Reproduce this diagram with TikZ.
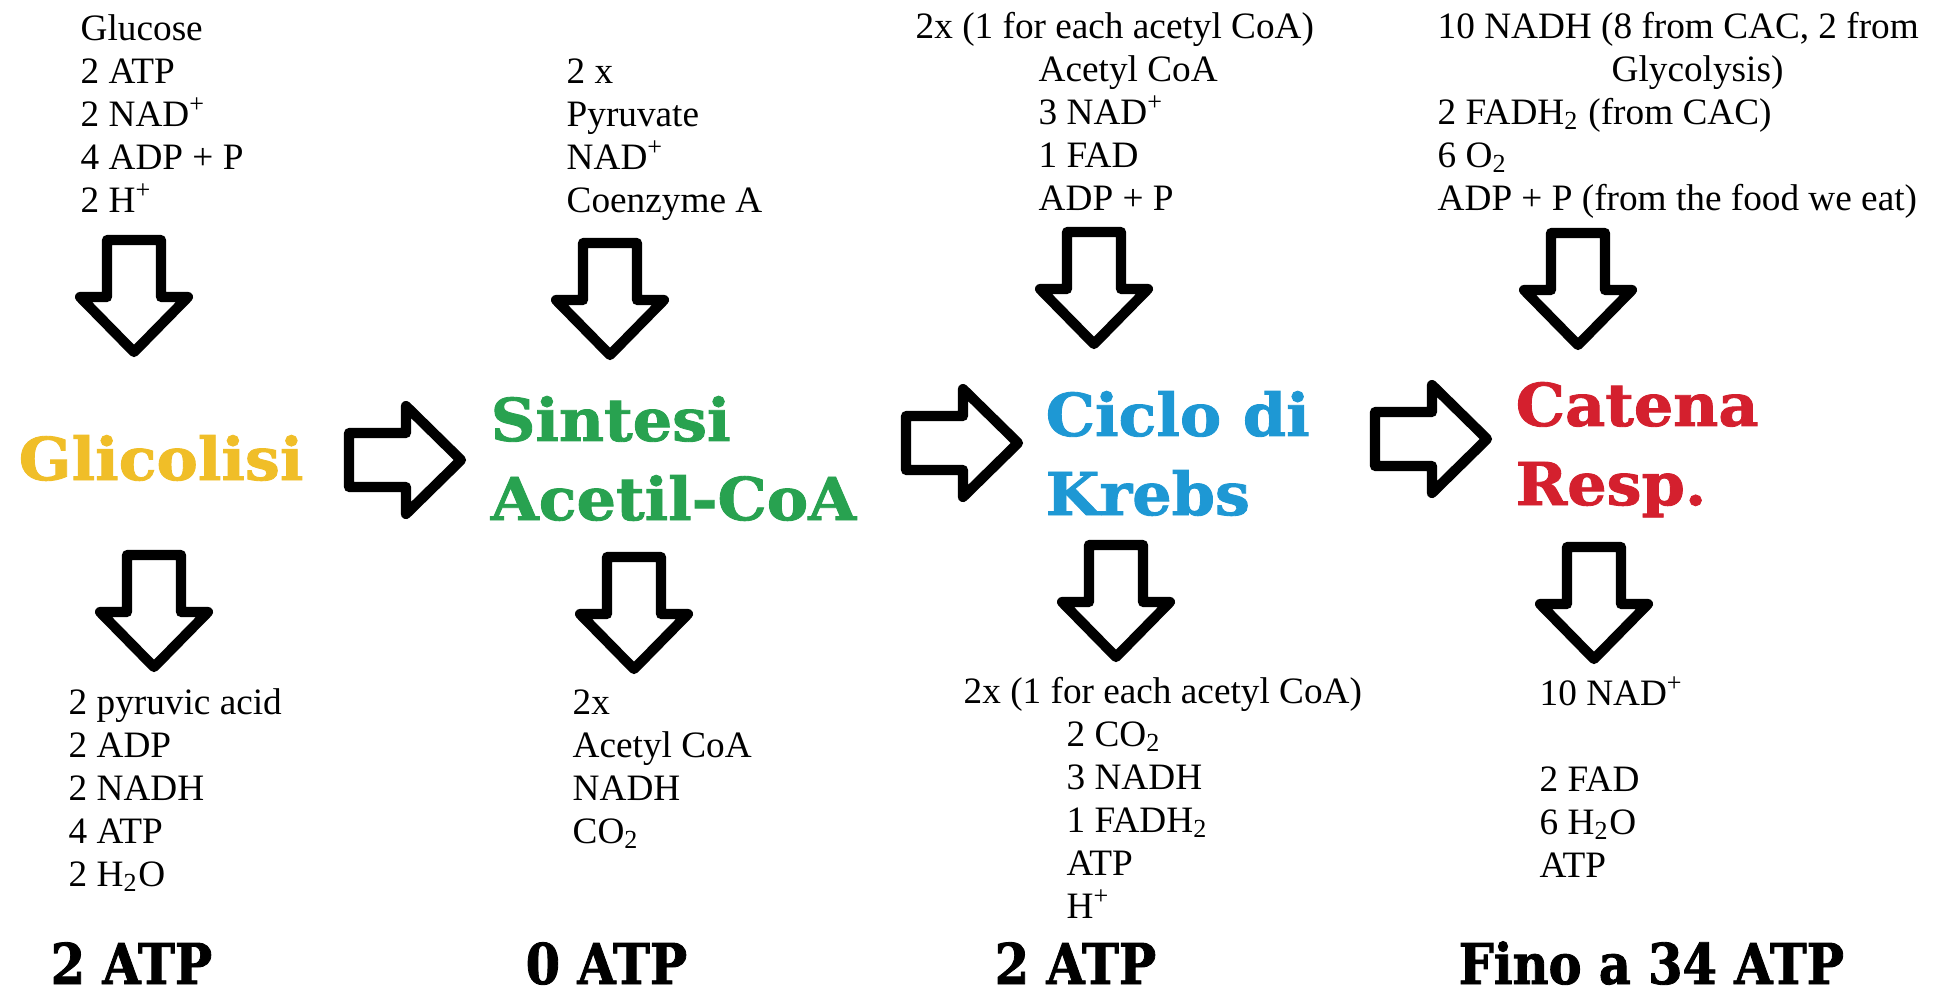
\documentclass[tikz,border=0pt]{standalone}
\usepackage{fontspec}
\setmainfont{Liberation Serif}
\newfontfamily\stagefont[UprightFont=* Bold,FakeStretch=1.05,FakeBold=1.5]{DejaVu Serif}
\newfontfamily\atpfont[UprightFont=* Bold,FakeStretch=0.88,FakeBold=1.5]{DejaVu Serif}
\definecolor{glyYellow}{RGB}{240,190,40}
\definecolor{pdhGreen}{RGB}{40,162,80}
\definecolor{krebsBlue}{RGB}{30,152,212}
\definecolor{chainRed}{RGB}{212,32,46}
\begin{document}
\begin{tikzpicture}
[x=0.1mm,y=-0.1mm,%
  listText/.style={font=\fontsize{10.6}{12.23}\selectfont,align=left,anchor=base west,inner sep=0pt},%
  stageName/.style={font=\stagefont\fontsize{16.8}{22.5}\selectfont,align=left,anchor=base west,inner sep=0pt},%
  atpTotal/.style={font=\atpfont\fontsize{16}{18}\selectfont,anchor=base west,inner sep=0pt},%
  blockArrow/.style={draw,line width=2.9pt,line join=round,fill=white}]
\fill[white] (0,0) rectangle (1937,997);
\useasboundingbox (0,0) rectangle (1937,997);
%% stage names (placed at the baseline of their last line)
\node (glyco) at (18,480) [stageName,text=glyYellow] {Glicolisi};
\node (acetyl) at (490,520) [stageName,text=pdhGreen] {Sintesi\\Acetil-CoA};
\node (krebs) at (1045,515) [stageName,text=krebsBlue] {Ciclo di\\Krebs};
\node (chain) at (1515,505) [stageName,text=chainRed] {Catena\\Resp.};
%% inputs
\node (glycoIn) at (80,212) [listText] {Glucose\\2 ATP\\2 NAD\textsuperscript{+}\\4 ADP + P\\2 H\textsuperscript{+}};
\node (acetylIn) at (566,212) [listText] {2 x\\Pyruvate\\NAD\textsuperscript{+}\\Coenzyme A};
\node (krebsIn) at (915,210) [listText] {2x (1 for each acetyl CoA)\\\hspace*{35pt}Acetyl CoA\\\hspace*{35pt}3 NAD\textsuperscript{+}\\\hspace*{35pt}1 FAD\\\hspace*{35pt}ADP + P};
\node (chainIn) at (1437,210) [listText] {10 NADH (8 from CAC, 2 from\\\hspace*{49.5pt}Glycolysis)\\2 FADH\textsubscript{2} (from CAC)\\6 O\textsubscript{2}\\ADP + P (from the food we eat)};
%% outputs
\node (glycoOut) at (68,886) [listText] {2 pyruvic acid\\2 ADP\\2 NADH\\4 ATP\\2 H\textsubscript{2}O};
\node (acetylOut) at (572,843) [listText] {2x\\Acetyl CoA\\NADH\\CO\textsubscript{2}};
\node (krebsOut) at (963,918) [listText] {2x (1 for each acetyl CoA)\\\hspace*{29.3pt}2 CO\textsubscript{2}\\\hspace*{29.3pt}3 NADH\\\hspace*{29.3pt}1 FADH\textsubscript{2}\\\hspace*{29.3pt}ATP\\\hspace*{29.3pt}H\textsuperscript{+}};
\node (chainOut) at (1539,877) [listText] {10 NAD\textsuperscript{+}\\\mbox{}\\2 FAD\\6 H\textsubscript{2}O\\ATP};
%% ATP totals
\foreach \nodename/\x/\txt in {atpGly/50/2 ATP, atpAcetyl/525/0 ATP, atpKrebs/994/2 ATP, atpChain/1458/Fino a 34 ATP}
{
  \node (\nodename) at (\x,984) [atpTotal] {\txt};
}
%% block arrows
\foreach \x/\y/\r in {134/235/0, 610/238/0, 1094/227/0, 1578/228/0, 154/550/0, 634/552/0, 1116/540/0, 1594/542/0, 344/460/90, 901/443/90, 1370/439/90}
{
  \draw[blockArrow,shift={(\x,\y)},rotate=\r] (-27,5) -- (-27,62) -- (-54,62) -- (0,117) -- (54,62) -- (27,62) -- (27,5) -- cycle;
}
\end{tikzpicture}
\end{document}
